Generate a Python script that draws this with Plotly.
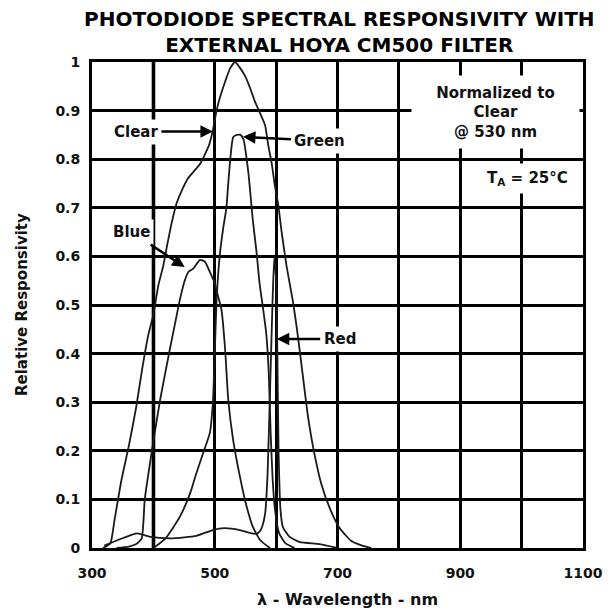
import plotly.graph_objects as go

# ---- data ----
clear_nm = [318, 330, 337, 348, 360, 372, 382, 392, 400, 408, 416, 422, 430, 438, 446, 456, 466, 476, 484, 491, 497, 503, 508, 517, 525, 533, 540, 550, 558, 565, 572, 582, 587, 593, 598, 603, 609, 617, 627, 634, 642, 652, 663, 674, 688, 704, 722, 740, 755]
clear_val = [0, 0.01, 0.06, 0.14, 0.21, 0.29, 0.37, 0.44, 0.48, 0.54, 0.58, 0.62, 0.67, 0.71, 0.735, 0.76, 0.775, 0.79, 0.81, 0.83, 0.86, 0.9, 0.925, 0.96, 0.987, 1.0, 0.99, 0.97, 0.945, 0.92, 0.9, 0.87, 0.83, 0.79, 0.745, 0.71, 0.65, 0.58, 0.51, 0.45, 0.37, 0.27, 0.19, 0.13, 0.08, 0.04, 0.015, 0.005, 0]

blue_nm = [340, 360, 372, 381, 386, 397, 411, 427, 435, 443, 451, 457, 465, 476, 484, 492, 500, 505, 511, 517, 522, 530, 541, 552, 562, 574, 590]
blue_val = [0, 0.003, 0.008, 0.02, 0.1, 0.195, 0.305, 0.41, 0.46, 0.51, 0.55, 0.568, 0.575, 0.593, 0.589, 0.568, 0.545, 0.52, 0.49, 0.407, 0.305, 0.222, 0.147, 0.085, 0.044, 0.016, 0]

green_nm = [400, 420, 443, 460, 470, 481, 492, 497, 500, 503, 508, 514, 519, 522, 526, 530, 536, 542, 547, 551, 555, 558, 562, 568, 573, 579, 584, 588, 591, 594, 598, 605, 615, 630]
green_val = [0.0, 0.02, 0.064, 0.113, 0.154, 0.195, 0.237, 0.3, 0.4, 0.51, 0.6, 0.66, 0.7, 0.75, 0.81, 0.845, 0.85, 0.85, 0.84, 0.81, 0.77, 0.73, 0.675, 0.61, 0.545, 0.49, 0.44, 0.36, 0.24, 0.15, 0.08, 0.03, 0.01, 0]

red_nm = [320, 350, 373, 395, 430, 470, 497, 515, 541, 560, 570, 576, 582, 586, 590, 594, 597, 600, 602, 604, 607, 611, 622, 639, 671, 700]
red_val = [0.005, 0.02, 0.03, 0.023, 0.02, 0.025, 0.037, 0.041, 0.037, 0.03, 0.03, 0.04, 0.07, 0.15, 0.32, 0.5, 0.6, 0.55, 0.4, 0.2, 0.08, 0.043, 0.023, 0.012, 0.008, 0]

x_ticks = [300, 500, 700, 900, 1100]
x_labels = ["300", "500", "700", "900", "1100"]
y_ticks = [0, 0.1, 0.2, 0.3, 0.4, 0.5, 0.6, 0.7, 0.8, 0.9, 1.0]
y_labels = ["0", "0.1", "0.2", "0.3", "0.4", "0.5", "0.6", "0.7", "0.8", "0.9", "1"]

FONT = "DejaVu Sans"
def bold(size):
    return dict(family=FONT, size=size, color="#111", weight="bold")

fig = go.Figure()
line_style = dict(color="#1a1a1a", width=1.8, shape="spline", smoothing=0.5)
for name, xs, ys in [("Clear", clear_nm, clear_val), ("Blue", blue_nm, blue_val),
                     ("Green", green_nm, green_val), ("Red", red_nm, red_val)]:
    fig.add_trace(go.Scatter(x=xs, y=ys, mode="lines", name=name, line=line_style,
                             showlegend=False, hoverinfo="skip"))

# gray gridline at 400 nm
fig.add_shape(type="line", xref="x", yref="paper", x0=400, x1=400, y0=0, y1=1,
              line=dict(color="#b0b0b0", width=5), layer="below")

ann = []
# title
ann.append(dict(text="PHOTODIODE SPECTRAL RESPONSIVITY WITH<br>EXTERNAL HOYA CM500 FILTER",
                xref="paper", yref="paper", x=0.505, y=1.0, yshift=30, xanchor="center", yanchor="middle",
                borderpad=0, showarrow=False, font=dict(family=FONT, size=20, color="#000", weight="bold")))
# axis titles
ann.append(dict(text="λ - Wavelength - nm", xref="paper", yref="paper", x=0.52, y=0, yshift=-51,
                xanchor="center", yanchor="middle", showarrow=False, font=bold(16)))
ann.append(dict(text="Relative Responsivity", xref="paper", yref="paper", x=0, xshift=-70, y=0.5,
                xanchor="center", yanchor="middle", textangle=-90, showarrow=False, font=bold(15)))
# labelled arrows
for txt, xt, yt, ax, ay in [("Clear", 497, 0.857, -77, 0), ("Green", 546, 0.846, 77, 4),
                           ("Blue", 451, 0.578, -53, -35), ("Red", 601, 0.43, 63, 0)]:
    ann.append(dict(text=txt, x=xt, y=yt, ax=ax, ay=ay, xref="x", yref="y",
                    showarrow=True, arrowhead=2, arrowsize=1, arrowwidth=2.5, arrowcolor="#000",
                    bgcolor="white", borderpad=3, font=bold(15)))
# notes
ann.append(dict(text="Normalized to<br>Clear<br>@ 530 nm", x=957, y=0.897, xref="x", yref="y",
                showarrow=False, bgcolor="white", width=165, height=70,
                font=bold(15)))
ann.append(dict(text="T<sub>A</sub> = 25°C", x=1010, y=0.761, xref="x", yref="y",
                showarrow=False, bgcolor="white", borderpad=5,
                font=bold(15)))

grid = dict(showgrid=True, gridcolor="#000", gridwidth=3)
fig.update_layout(
    width=606, height=607,
    margin=dict(l=84, r=31, t=54, b=67),
    paper_bgcolor="white", plot_bgcolor="white",
    annotations=ann,
    xaxis=dict(range=[300, 1100], tickmode="array", tickvals=x_ticks, ticktext=x_labels,
               zeroline=False, showline=True, linecolor="#000", linewidth=3, mirror=True,
               ticks="", ticklabelstandoff=10, tickfont=bold(14),
               minor=dict(tickmode="linear", tick0=300, dtick=100, ticks="", **grid), **grid),
    yaxis=dict(range=[0, 1], tickmode="array", tickvals=y_ticks, ticktext=y_labels,
               zeroline=False, showline=True, linecolor="#000", linewidth=3, mirror=True,
               ticks="", ticklabelstandoff=6, tickfont=bold(14), **grid),
)

fig.write_html("out.html")
